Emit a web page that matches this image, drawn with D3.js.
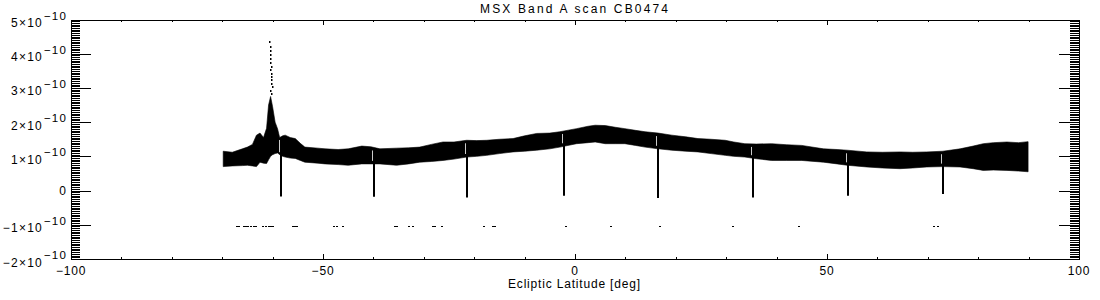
<!DOCTYPE html>
<html>
<head>
<meta charset="utf-8">
<script src="https://cdn.jsdelivr.net/npm/d3@7"></script>
<style>
html,body{margin:0;padding:0;background:#fff;}
svg{display:block;}
text{font-family:"Liberation Sans","DejaVu Sans",sans-serif;fill:#000;}
</style>
</head>
<body>
<svg id="chart" width="1100" height="300"></svg>
<script>
// ---- data (values in units of 1e-10) ----
const title = "MSX Band A scan CB0474";
const xTitle = "Ecliptic Latitude [deg]";
const xMajorTicks = [-100, -50, 0, 50, 100];
const xTickLabels = ["\u2212100", "\u221250", "0", "50", "100"];
const yMajorTicks = [-2, -1, 0, 1, 2, 3, 4, 5];
const yTickBase = ["\u22122\u00d710", "\u22121\u00d710", "0", "1\u00d710", "2\u00d710", "3\u00d710", "4\u00d710", "5\u00d710"];
const yTickExp = ["\u221210", "\u221210", "", "\u221210", "\u221210", "\u221210", "\u221210", "\u221210"];

const bandLat = [-69.8,-68,-66,-65,-64,-63.2,-62.5,-61.8,-61.2,-60.8,-60.4,-60.0,-59.5,-59.0,-58.6,-58.0,-57.5,-56.5,-55.5,-54.5,-53.6,-51,-49.6,-47,-45,-42.3,-40.5,-38.7,-35.4,-33,-30.8,-28.5,-26.2,-24,-21.5,-19.5,-17.5,-15,-12.3,-10,-7.6,-5,-3,0.3,2.6,4,6,8,9.9,12,13.9,16.5,19.2,22,24.4,27,29.8,31.5,33.7,36,39,42,45,49.3,52,54,57.9,61,64.5,67,69.8,73,76.4,79,81,83,85.7,88,89.9];
const bandUpper = [1.15,1.12,1.22,1.27,1.35,1.62,1.68,1.55,1.82,2.5,2.75,2.45,2.0,1.8,1.55,1.6,1.62,1.55,1.52,1.38,1.27,1.24,1.22,1.2,1.22,1.3,1.28,1.22,1.24,1.25,1.27,1.35,1.42,1.42,1.47,1.46,1.47,1.5,1.52,1.6,1.67,1.68,1.72,1.81,1.88,1.91,1.9,1.85,1.81,1.76,1.72,1.68,1.62,1.57,1.52,1.5,1.47,1.42,1.37,1.36,1.37,1.34,1.32,1.22,1.2,1.18,1.13,1.12,1.13,1.12,1.13,1.15,1.22,1.3,1.37,1.4,1.42,1.4,1.43];
const bandLower = [0.7,0.72,0.73,0.74,0.72,0.7,0.83,0.8,0.79,0.9,1.0,1.05,1.08,1.1,1.05,1.0,0.98,0.95,0.94,0.88,0.83,0.8,0.78,0.76,0.74,0.78,0.78,0.78,0.74,0.78,0.83,0.85,0.88,0.92,0.98,1.0,1.03,1.08,1.13,1.15,1.18,1.22,1.27,1.37,1.4,1.42,1.37,1.37,1.37,1.32,1.27,1.22,1.18,1.15,1.13,1.08,1.03,1.0,0.98,0.93,0.88,0.88,0.88,0.83,0.78,0.74,0.69,0.66,0.64,0.66,0.69,0.7,0.69,0.64,0.59,0.6,0.59,0.57,0.55];

const dipLat = [-58.4, -39.9, -21.4, -2.2, 16.5, 35.3, 54.2, 73.0];
const dipMin = [-0.17, -0.18, -0.2, -0.15, -0.22, -0.2, -0.15, -0.1];

const peakLat = [-60.7,-60.6,-60.6,-60.5,-60.6,-60.5,-60.4,-60.5,-60.3,-60.4,-60.3,-60.4,-60.2,-60.5,-60.3];
const peakVal = [4.36,4.22,4.1,3.98,3.88,3.75,3.65,3.55,3.45,3.35,3.25,3.15,3.05,2.95,2.85];

const outlierLat = [-67.2,-66.8,-65.8,-65.4,-65.0,-64.4,-63.9,-63.5,-62.2,-61.5,-61.0,-60.5,-60.1,-56.2,-55.8,-55.3,-48,-47.5,-46.3,-36,-35.5,-33.2,-32.3,-28.4,-27.9,-26.6,-18.3,-16.5,-16.0,-2.0,6.9,16.7,31.1,44.3,71.0,71.8];
const outlierVal = -1.03;

// ---- drawing ----
const E = 1e-10;
const svg = d3.select("#chart");
const x = d3.scaleLinear([-100, 100], [71, 1079]);
const y = d3.scaleLinear([-2 * E, 5 * E], [259, 19.5]);

// band
const band = bandLat.map((d, i) => ({lat: d, hi: bandUpper[i] * E, lo: bandLower[i] * E}));
svg.append("path")
  .datum(band)
  .attr("d", d3.area().x(d => x(d.lat)).y0(d => y(d.lo)).y1(d => y(d.hi)))
  .attr("fill", "#000").attr("stroke", "#000").attr("stroke-width", 0.6);

// dips
const interpLo = lat => {
  const i = d3.bisector(d => d.lat).left(band, lat);
  const a = band[Math.max(0, i - 1)], b = band[Math.min(band.length - 1, i)];
  const t = b.lat === a.lat ? 0 : (lat - a.lat) / (b.lat - a.lat);
  return {lo: a.lo + t * (b.lo - a.lo), hi: a.hi + t * (b.hi - a.hi)};
};
dipLat.forEach((lat, i) => {
  const env = interpLo(lat);
  svg.append("line")
    .attr("x1", Math.round(x(lat)) - 1.5).attr("x2", Math.round(x(lat)) - 1.5)
    .attr("y1", y(env.hi) + 3).attr("y2", y(env.lo) - 3)
    .attr("stroke", "#fff").attr("stroke-width", 0.8);
  svg.append("line")
    .attr("x1", Math.round(x(lat))).attr("x2", Math.round(x(lat)))
    .attr("y1", y((env.lo + env.hi) / 2)).attr("y2", y(dipMin[i] * E))
    .attr("stroke", "#000").attr("stroke-width", 2);
});

// peak dots
svg.append("g").selectAll("rect").data(peakLat).join("rect")
  .attr("x", (d) => Math.round(x(d)))
  .attr("y", (d, i) => Math.round(y(peakVal[i] * E)))
  .attr("width", 1.5).attr("height", 2).attr("fill", "#000");

// outliers
svg.append("g").selectAll("rect").data(outlierLat).join("rect")
  .attr("x", d => Math.round(x(d)))
  .attr("y", Math.round(y(outlierVal * E)))
  .attr("width", 2).attr("height", 1).attr("fill", "#000");

// axes
const xMinor = d3.range(-90, 100, 10).filter(v => v % 50 !== 0);
const yMinor = d3.range(-40, 101).filter(v => v % 20 !== 0).map(v => v * 0.05 * E);
const yMaj = yMajorTicks.map(v => v * E);

function styleAxis(g) {
  g.selectAll("path,line").attr("stroke", "#000").attr("stroke-width", 1).attr("shape-rendering", "crispEdges");
  g.selectAll("text").remove();
}
svg.append("g").attr("transform", "translate(0,259)")
  .call(d3.axisBottom(x).tickValues(xMajorTicks).tickSize(-5).tickSizeOuter(0).tickFormat("")).call(styleAxis);
svg.append("g").attr("transform", "translate(0,259)")
  .call(d3.axisBottom(x).tickValues(xMinor).tickSize(-2.5).tickSizeOuter(0).tickFormat("")).call(styleAxis);
svg.append("g").attr("transform", "translate(0,19.5)")
  .call(d3.axisTop(x).tickValues(xMajorTicks).tickSize(-5).tickSizeOuter(0).tickFormat("")).call(styleAxis);
svg.append("g").attr("transform", "translate(0,19.5)")
  .call(d3.axisTop(x).tickValues(xMinor).tickSize(-2.5).tickSizeOuter(0).tickFormat("")).call(styleAxis);
svg.append("g").attr("transform", "translate(71,0)")
  .call(d3.axisLeft(y).tickValues(yMaj).tickSize(-20).tickSizeOuter(0).tickFormat("")).call(styleAxis);
svg.append("g").attr("transform", "translate(71,0)")
  .call(d3.axisLeft(y).tickValues(yMinor).tickSize(-9).tickSizeOuter(0).tickFormat("")).call(styleAxis);
svg.append("g").attr("transform", "translate(1079,0)")
  .call(d3.axisRight(y).tickValues(yMaj).tickSize(-20).tickSizeOuter(0).tickFormat("")).call(styleAxis);
svg.append("g").attr("transform", "translate(1079,0)")
  .call(d3.axisRight(y).tickValues(yMinor).tickSize(-9).tickSizeOuter(0).tickFormat("")).call(styleAxis);

// x tick labels
svg.append("g").selectAll("text").data(xMajorTicks).join("text")
  .attr("x", d => x(d)).attr("y", 275)
  .attr("text-anchor", "middle").attr("font-size", 12).attr("letter-spacing", 0.8)
  .text((d, i) => xTickLabels[i]);

// y tick labels
yMajorTicks.forEach((v, i) => {
  const yy = y(v * E);
  const t = svg.append("text").attr("x", 67).attr("text-anchor", "end").attr("font-size", 12).attr("letter-spacing", 1.2);
  if (yTickExp[i] === "") {
    t.attr("y", yy + 4).text(yTickBase[i]);
  } else {
    t.attr("y", yy + 7.5);
    t.append("tspan").text(yTickBase[i]);
    t.append("tspan").attr("dy", -7.5).attr("font-size", 11.5).attr("dx", 1).text(yTickExp[i]);
  }
});

// titles
svg.append("text").attr("x", 574).attr("y", 13).attr("text-anchor", "middle")
  .attr("font-size", 12).attr("textLength", 188).attr("lengthAdjust", "spacing").text(title);
svg.append("text").attr("x", 574).attr("y", 288).attr("text-anchor", "middle")
  .attr("font-size", 12).attr("textLength", 132).attr("lengthAdjust", "spacing").text(xTitle);
</script>
</body>
</html>
